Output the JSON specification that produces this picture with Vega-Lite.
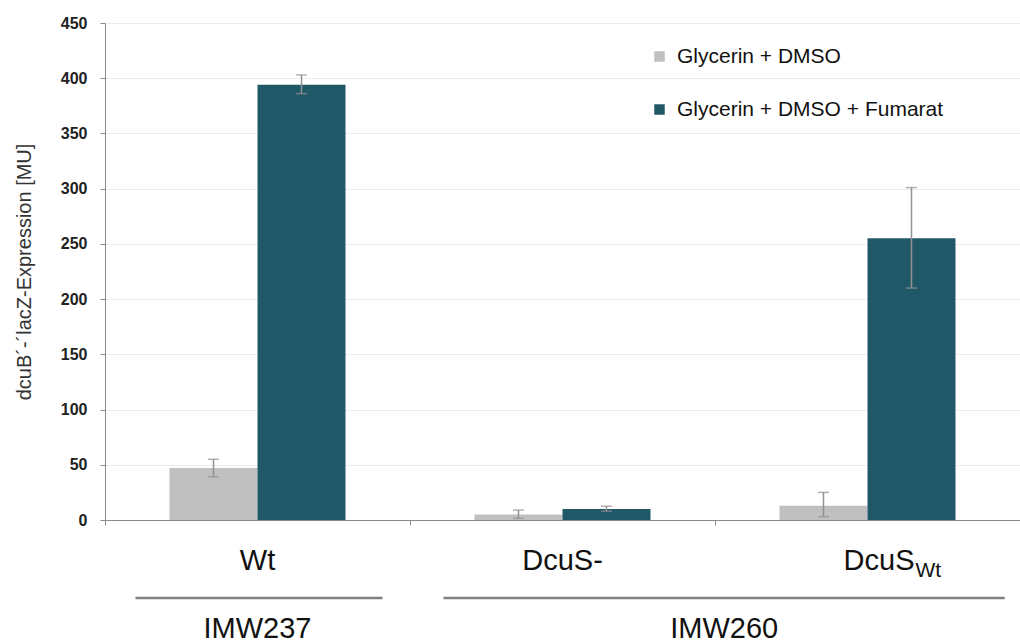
{
  "$schema": "https://vega.github.io/schema/vega-lite/v6.json",
  "padding": {"left": 14, "top": 15, "right": 0, "bottom": 0},
  "background": "white",
  "config": {
    "font": "Liberation Sans",
    "view": {"stroke": null},
    "concat": {"spacing": 42}
  },
  "datasets": {
    "bars": [
      {"strain": "Wt", "medium": "Glycerin + DMSO", "value": 47, "low": 39, "high": 55},
      {"strain": "Wt", "medium": "Glycerin + DMSO + Fumarat", "value": 394, "low": 386, "high": 403},
      {"strain": "DcuS-", "medium": "Glycerin + DMSO", "value": 5, "low": 1.5, "high": 9},
      {"strain": "DcuS-", "medium": "Glycerin + DMSO + Fumarat", "value": 10, "low": 8, "high": 12.5},
      {"strain": "DcuSWt", "medium": "Glycerin + DMSO", "value": 13, "low": 3, "high": 25},
      {"strain": "DcuSWt", "medium": "Glycerin + DMSO + Fumarat", "value": 255, "low": 210, "high": 301}
    ],
    "cats": [
      {"label": "Wt", "pos": 0.5},
      {"label": "DcuS-", "pos": 1.5}
    ],
    "subcat": [
      {"label": "DcuS", "sub": "Wt", "pos": 2.5}
    ],
    "groups": [
      {"group": "IMW237", "start": 0.1, "end": 0.91, "mid": 0.5},
      {"group": "IMW260", "start": 1.11, "end": 2.95, "mid": 2.03}
    ]
  },
  "bounds": "flush",
  "vconcat": [
    {
      "width": 915,
      "height": 497,
      "data": {"name": "bars"},
      "encoding": {
        "x": {
          "field": "strain",
          "type": "nominal",
          "sort": null,
          "scale": {"paddingInner": 0, "paddingOuter": 0},
          "axis": {
            "title": null,
            "labels": false,
            "bandPosition": 0,
            "domainColor": "#8a8a8a",
            "tickColor": "#8a8a8a",
            "tickSize": 5,
            "domainWidth": 1,
            "grid": false
          }
        },
        "xOffset": {
          "field": "medium",
          "type": "nominal",
          "sort": null,
          "scale": {"paddingOuter": 0.733, "paddingInner": 0}
        }
      },
      "layer": [
        {
          "mark": {"type": "bar"},
          "encoding": {
            "y": {
              "field": "value",
              "type": "quantitative",
              "scale": {"domain": [0, 450], "nice": false},
              "axis": {
                "values": [0, 50, 100, 150, 200, 250, 300, 350, 400, 450],
                "title": "dcuB´-´lacZ-Expression [MU]",
                "titleFontSize": 20,
                "titleFontWeight": "normal",
                "titleColor": "#333333",
                "titlePadding": 26,
                "labelFontSize": 16,
                "labelFontWeight": "bold",
                "labelColor": "#222222",
                "labelPadding": 13,
                "tickSize": 5,
                "tickColor": "#8a8a8a",
                "domainColor": "#8a8a8a",
                "gridColor": "#ececec",
                "gridWidth": 1
              }
            },
            "color": {
              "field": "medium",
              "type": "nominal",
              "sort": null,
              "scale": {"range": ["#c0c0c0", "#215868"]},
              "legend": {
                "title": null,
                "orient": "none",
                "legendX": 544,
                "legendY": 23,
                "symbolType": "square",
                "symbolSize": 110,
                "symbolStrokeWidth": 0,
                "labelFontSize": 21,
                "labelLimit": 0,
                "labelColor": "#111111",
                "labelOffset": 7,
                "rowPadding": 31,
                "padding": 0
              }
            }
          }
        },
        {
          "mark": {"type": "rule", "color": "#929292", "strokeWidth": 1.5},
          "encoding": {
            "y": {"field": "low", "type": "quantitative"},
            "y2": {"field": "high"}
          }
        },
        {
          "mark": {"type": "tick", "color": "#929292", "size": 11, "thickness": 1.5},
          "encoding": {
            "y": {"field": "low", "type": "quantitative"}
          }
        },
        {
          "mark": {"type": "tick", "color": "#929292", "size": 11, "thickness": 1.5},
          "encoding": {
            "y": {"field": "high", "type": "quantitative"}
          }
        }
      ]
    },
    {
      "width": 915,
      "height": 72,
      "layer": [
        {
          "data": {"name": "cats"},
          "mark": {"type": "text", "fontSize": 29, "color": "#111111", "baseline": "alphabetic", "dy": 8},
          "encoding": {
            "x": {"field": "pos", "type": "quantitative", "scale": {"domain": [0, 3], "nice": false, "zero": false}, "axis": null},
            "y": {"datum": "Stamm", "type": "ordinal", "scale": {"type": "point", "domain": ["Stamm", "Linie", "Gruppe"], "padding": 0}, "axis": null},
            "text": {"field": "label"}
          }
        },
        {
          "data": {"name": "subcat"},
          "mark": {"type": "text", "fontSize": 29, "color": "#111111", "baseline": "alphabetic", "align": "right", "dx": 47, "dy": 8},
          "encoding": {
            "x": {"field": "pos", "type": "quantitative"},
            "y": {"datum": "Stamm", "type": "ordinal"},
            "text": {"field": "label"}
          }
        },
        {
          "data": {"name": "subcat"},
          "mark": {"type": "text", "fontSize": 21, "color": "#111111", "baseline": "alphabetic", "align": "left", "dx": 48, "dy": 15},
          "encoding": {
            "x": {"field": "pos", "type": "quantitative"},
            "y": {"datum": "Stamm", "type": "ordinal"},
            "text": {"field": "sub"}
          }
        },
        {
          "data": {"name": "groups"},
          "mark": {"type": "rule", "color": "#808080", "strokeWidth": 2.5},
          "encoding": {
            "x": {"field": "start", "type": "quantitative"},
            "x2": {"field": "end"},
            "y": {"datum": "Linie", "type": "ordinal"}
          }
        },
        {
          "data": {"name": "groups"},
          "mark": {"type": "text", "fontSize": 29, "color": "#111111", "baseline": "alphabetic", "dy": 4},
          "encoding": {
            "x": {"field": "mid", "type": "quantitative"},
            "y": {"datum": "Gruppe", "type": "ordinal"},
            "text": {"field": "group"}
          }
        }
      ]
    }
  ]
}
